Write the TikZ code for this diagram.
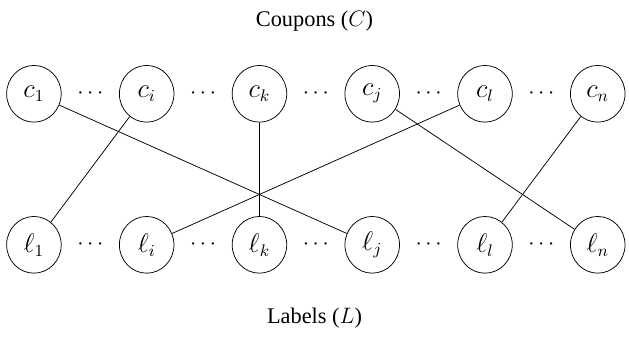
\documentclass[tikz,border=0pt]{standalone}
\usepackage{fontspec}
\setmainfont{Liberation Serif}
\usetikzlibrary{shapes.geometric}

\newcommand{\varW}{11.87}
\newcommand{\varH}{6.38}
\newcommand{\varxo}{0.64}
\newcommand{\varsep}{2.128}
\newcommand{\vartop}{-1.77}
\newcommand{\varbot}{-4.62}

\begin{document}
\begin{tikzpicture}[every node/.style={font=\large},
	vertex/.style={draw, ellipse, minimum width=1.03cm, minimum height=1.07cm, inner sep=0pt,
		font=\fontsize{13.5}{16}\selectfont}]

	% frame
	\useasboundingbox (0,0) rectangle (\varW,-\varH);

	% captions
	\node (coupons) at (.5*\varW,-0.4) {Coupons ($C$)};
	\node (labels) at (.5*\varW,-6.0) {Labels ($L$)};

	% vertices
	\foreach \idx [count=\n from 0] in {1,i,k,j,l,n} {
		\node [vertex] (c\idx) at (\varxo+\n*\varsep,\vartop) {$c_{\idx}$};
		\node [vertex] (l\idx) at (\varxo+\n*\varsep,\varbot) {$\ell_{\idx}$};
	}

	% dots
	\foreach \n in {0,...,4} {
		\node (dc\n) at (\varxo+\n*\varsep+.5*\varsep,\vartop) {$\cdots$};
		\node (dl\n) at (\varxo+\n*\varsep+.5*\varsep,\varbot) {$\cdots$};
	}

	% edges
	\draw (c1) -- (lj);
	\draw (ci) -- (l1);
	\draw (ck) -- (lk);
	\draw (cj) -- (ln);
	\draw (cl) -- (li);
	\draw (cn) -- (ll);
\end{tikzpicture}
\end{document}
